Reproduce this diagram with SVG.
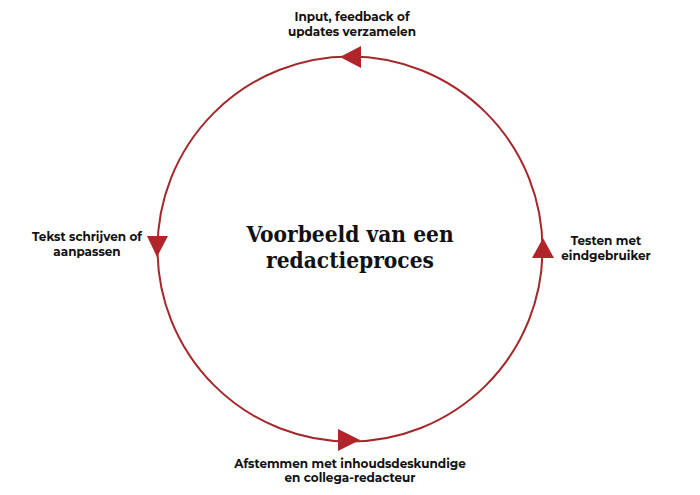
<svg xmlns="http://www.w3.org/2000/svg" width="700" height="495" viewBox="0 0 700 495">
<style>
.lbl{font-family:"Montserrat","Open Sans","Liberation Sans",sans-serif;font-weight:700;font-size:12px;fill:#111;text-anchor:middle}
.ttl{font-family:"DejaVu Serif Condensed","DejaVu Serif","Liberation Serif",serif;font-weight:700;font-size:22.5px;fill:#111;text-anchor:middle}
.ring{fill:none;stroke:#a3282b;stroke-width:2}
.head{fill:#b0242a}
</style>
<rect width="700" height="495" fill="#fff"/>
<g id="connectors">
<circle class="ring" cx="350" cy="249" r="192.5"/>
<polygon class="head" points="340,57 361,46 361,68"/>
<polygon class="head" points="543,238 532,258 554,258"/>
<polygon class="head" points="157,257 147,236 168,236"/>
<polygon class="head" points="360,440 338,429 338,451"/>
</g>
<g id="title"><text class="ttl" x="350" y="242">Voorbeeld van een</text><text class="ttl" x="350" y="268">redactieproces</text></g>
<g id="node-input"><text class="lbl" x="352" y="21">Input, feedback of</text><text class="lbl" x="352" y="35.5">updates verzamelen</text></g>
<g id="node-testen"><text class="lbl" x="606" y="245">Testen met</text><text class="lbl" x="606" y="259.5">eindgebruiker</text></g>
<g id="node-tekst"><text class="lbl" x="87" y="241">Tekst schrijven of</text><text class="lbl" x="87" y="255.5">aanpassen</text></g>
<g id="node-afstemmen"><text class="lbl" x="350" y="467.5">Afstemmen met inhoudsdeskundige</text><text class="lbl" x="350" y="482">en collega-redacteur</text></g>
</svg>
